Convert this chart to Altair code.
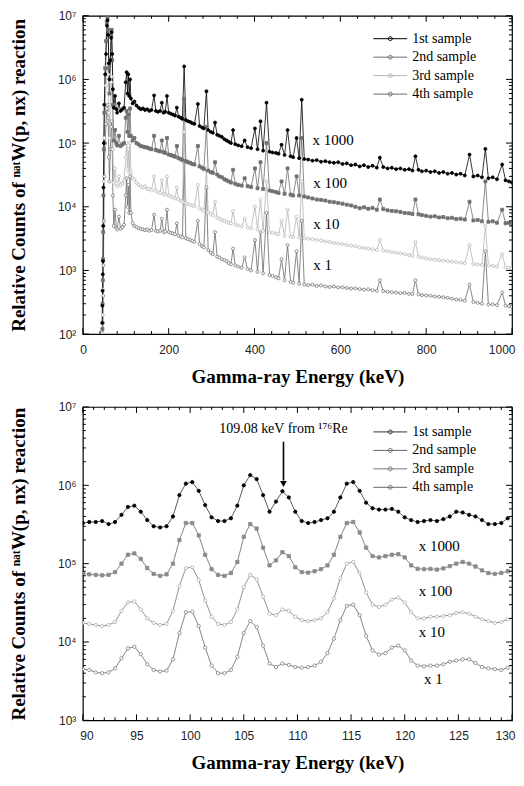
import altair as alt
import pandas as pd

SERIF = "Liberation Serif"
SANS = "Liberation Sans"

series_names = ["1st sample", "2nd sample", "3rd sample", "4th sample"]

# ---------------- top panel: full spectrum (keV, relative counts) ----------------
top_energy = [
    45, 45.5, 46, 46.5, 47, 47.5, 48, 49, 50, 52,
    54, 56, 57.5, 59, 60.5, 62, 64, 66, 67, 68.5,
    70, 72, 75, 78, 80, 84, 88, 92, 96, 100,
    102, 104, 106, 108, 110, 112, 116, 120, 125, 130,
    135, 140, 145, 150, 155, 160, 166, 170, 175, 180,
    184, 188, 192, 196, 200, 205, 210, 215, 219, 223,
    228, 232, 236, 240, 245, 250, 255, 260, 268, 272,
    278, 282, 288, 292, 298, 303, 308, 313, 318, 324,
    330, 335, 340, 345, 350, 355, 362, 370, 377, 384,
    392, 401, 407, 414, 420, 428, 435, 442, 450, 456,
    463, 470, 477, 484, 490, 498, 504, 510, 516, 525,
    535, 545, 555, 565, 575, 585, 595, 605, 615, 625,
    635, 645, 655, 665, 675, 685, 692, 700, 710, 720,
    730, 740, 750, 760, 768, 775, 782, 790, 800, 810,
    820, 830, 840, 850, 860, 870, 880, 890, 901, 910,
    920, 930, 938, 945, 955, 965, 977, 985, 993, 1000,
]
top_s1 = [
    150, 280, 480, 870, 1400, 5000, 2.0e4, 1.0e5, 4.0e5, 1.2e6,
    2.5e6, 7.0e6, 8.5e6, 5.0e6, 1.8e6, 1.0e6, 2.0e6, 4.5e6, 5.5e6, 2.5e6,
    7e5, 3.6e5, 5.5e5, 3.4e5, 3.0e5, 4.2e5, 3.2e5, 3.4e5, 3.6e5, 9e5,
    1.3e6, 6e5, 1.2e6, 5.5e5, 1.0e6, 5.0e5, 4.2e5, 4.5e5, 3.9e5, 3.6e5,
    3.4e5, 3.5e5, 3.3e5, 3.4e5, 3.2e5, 3.3e5, 5.6e5, 3.2e5, 3.1e5, 3.2e5,
    4.3e5, 3.0e5, 3.1e5, 5.5e5, 3.0e5, 2.9e5, 2.8e5, 2.7e5, 3.6e5, 2.6e5,
    2.5e5, 2.4e5, 1.6e6, 2.3e5, 2.2e5, 2.15e5, 2.05e5, 2.0e5, 4.1e5, 1.85e5,
    1.75e5, 1.7e5, 6.5e5, 1.6e5, 1.5e5, 1.45e5, 2.1e5, 1.35e5, 1.3e5, 1.25e5,
    1.15e5, 1.1e5, 1.05e5, 1.0e5, 1.6e5, 9.6e4, 9.2e4, 8.9e4, 1.1e5, 8.6e4,
    8.3e4, 1.7e5, 8.0e4, 2.2e5, 7.6e4, 4.3e5, 7.3e4, 7.1e4, 7.0e4, 6.8e4,
    9.4e4, 6.5e4, 1.6e5, 6.2e4, 6.0e4, 1.2e5, 5.8e4, 4.8e5, 5.6e4, 5.5e4,
    5.3e4, 5.4e4, 5.1e4, 5.2e4, 5.0e4, 4.9e4, 5.0e4, 4.7e4, 4.8e4, 4.5e4,
    4.6e4, 4.3e4, 4.5e4, 4.2e4, 4.4e4, 4.1e4, 5.9e4, 4.2e4, 4.0e4, 4.1e4,
    3.9e4, 4.0e4, 3.8e4, 3.9e4, 3.7e4, 6.2e4, 3.8e4, 3.6e4, 3.7e4, 3.5e4,
    3.6e4, 3.4e4, 3.5e4, 3.3e4, 3.4e4, 3.2e4, 3.3e4, 3.1e4, 6.6e4, 3.0e4,
    3.1e4, 2.9e4, 8.1e4, 2.8e4, 2.9e4, 2.7e4, 4.6e4, 2.6e4, 2.5e4, 2.4e4,
]
top_s2 = [
    60, 120, 300, 700, 1500, 4000, 1.5e4, 8e4, 3e5, 1.5e6,
    4e6, 8e6, 9.5e6, 6e6, 1.5e6, 6e5, 2e6, 5e6, 6e6, 2e6,
    4e5, 1.1e5, 1.6e5, 1.0e5, 9.2e4, 1.3e5, 9.0e4, 9.5e4, 1.0e5, 2.5e5,
    3.2e5, 1.5e5, 2.8e5, 1.3e5, 3.5e5, 1.3e5, 1.1e5, 1.2e5, 1.0e5, 9.5e4,
    9.0e4, 8.8e4, 8.6e4, 8.5e4, 8.2e4, 8.0e4, 1.3e5, 7.8e4, 7.6e4, 7.4e4,
    1.1e5, 7.2e4, 7.0e4, 1.2e5, 6.6e4, 6.5e4, 6.3e4, 6.1e4, 9.0e4, 5.8e4,
    5.6e4, 5.4e4, 5.0e5, 5.2e4, 5.0e4, 4.9e4, 4.7e4, 4.6e4, 9.0e4, 4.3e4,
    4.1e4, 3.9e4, 1.8e5, 3.7e4, 3.5e4, 3.4e4, 5.0e4, 3.2e4, 3.0e4, 2.9e4,
    2.7e4, 2.6e4, 2.5e4, 2.4e4, 3.8e4, 2.3e4, 2.2e4, 2.15e4, 2.8e4, 2.1e4,
    2.05e4, 4.0e4, 1.95e4, 5.0e4, 1.9e4, 1.0e5, 1.8e4, 1.75e4, 1.7e4, 1.65e4,
    2.5e4, 1.6e4, 4.0e4, 1.55e4, 1.5e4, 3.0e4, 1.5e4, 1.2e5, 1.45e4, 1.4e4,
    1.35e4, 1.3e4, 1.28e4, 1.25e4, 1.2e4, 1.18e4, 1.15e4, 1.12e4, 1.08e4, 1.05e4,
    1.0e4, 9.5e3, 9.8e3, 9.3e3, 9.6e3, 9.0e3, 1.3e4, 9.2e3, 8.8e3, 8.6e3,
    8.5e3, 8.3e3, 8.0e3, 7.9e3, 7.7e3, 1.3e4, 7.6e3, 7.4e3, 7.2e3, 7.0e3,
    7.1e3, 6.8e3, 6.9e3, 6.6e3, 6.7e3, 6.4e3, 6.5e3, 6.3e3, 1.2e4, 6.1e3,
    6.2e3, 5.9e3, 2.5e4, 5.8e3, 5.9e3, 5.6e3, 9.0e3, 5.5e3, 5.6e3, 5.4e3,
]
top_s3 = [
    40, 60, 100, 200, 500, 1500, 5000, 2.5e4, 1.2e5, 4e5,
    8e5, 1.6e6, 1.9e6, 1.2e6, 3e5, 1.2e5, 4e5, 9e5, 1.1e6, 4e5,
    8e4, 2.4e4, 4e4, 2.3e4, 2.1e4, 3.0e4, 2.2e4, 2.3e4, 2.6e4, 6e4,
    1e5, 4e4, 8e4, 3.5e4, 1e5, 3.5e4, 2.8e4, 2.7e4, 2.4e4, 2.2e4,
    2.1e4, 2.0e4, 2.1e4, 1.9e4, 1.9e4, 1.8e4, 3.0e4, 1.8e4, 1.7e4, 1.65e4,
    2.6e4, 1.6e4, 1.55e4, 3.0e4, 1.5e4, 1.45e4, 1.4e4, 1.35e4, 2.0e4, 1.3e4,
    1.25e4, 1.2e4, 1.5e5, 1.15e4, 1.1e4, 1.08e4, 1.05e4, 1.02e4, 2.2e4, 9500,
    9000, 8700, 4.0e4, 8200, 7800, 7400, 1.2e4, 6800, 6500, 6200,
    6000, 5800, 5600, 5500, 8500, 5300, 5100, 4900, 6500, 4700,
    4600, 1.0e4, 4400, 1.3e4, 4200, 2.5e4, 4000, 3900, 3800, 3700,
    6000, 3500, 9000, 3400, 3350, 7000, 3300, 2.5e4, 3200, 3150,
    3100, 3000, 2950, 2850, 2800, 2700, 2650, 2600, 2500, 2450,
    2400, 2300, 2250, 2200, 2150, 2100, 3000, 2050, 2000, 1950,
    1900, 1850, 1800, 1750, 1700, 2800, 1650, 1600, 1550, 1500,
    1480, 1450, 1420, 1400, 1380, 1350, 1320, 1300, 2500, 1260,
    1240, 1220, 5000, 1200, 1180, 1150, 1800, 1120, 1100, 1080,
]
top_s4 = [
    30, 40, 60, 90, 150, 400, 1200, 6000, 3e4, 1e5,
    2e5, 3.5e5, 4e5, 2.5e5, 6e4, 2.5e4, 8e4, 1.8e5, 2.2e5, 8e4,
    1.5e4, 5000, 9000, 4600, 4400, 7000, 4500, 4800, 5200, 1.5e4,
    2.8e4, 1.0e4, 2.2e4, 8000, 3.0e4, 8000, 5500, 5000, 4800, 4600,
    4500, 4400, 4300, 4400, 4200, 4300, 7500, 4200, 4100, 4200,
    6500, 4000, 4100, 9000, 4000, 3900, 3800, 3700, 5500, 3500,
    3400, 3300, 5.0e4, 3200, 3100, 3000, 2900, 2800, 6000, 2600,
    2400, 2300, 2.0e4, 2100, 1900, 1800, 4000, 1650, 1600, 1500,
    1450, 1400, 1300, 1250, 2200, 1200, 1150, 1100, 1600, 1050,
    1000, 3000, 950, 4000, 900, 8000, 850, 820, 780, 750,
    1500, 700, 2500, 660, 640, 2000, 620, 6000, 600, 590,
    600, 570, 580, 560, 550, 560, 540, 545, 530, 520,
    525, 510, 500, 505, 490, 480, 700, 470, 465, 455,
    450, 440, 445, 430, 425, 700, 420, 410, 405, 400,
    390, 385, 380, 370, 360, 350, 345, 335, 600, 320,
    310, 300, 2000, 290, 295, 285, 450, 280, 275, 270,
]

# ---------------- bottom panel: zoom 90-130 keV ----------------
bot_energy = [round(90 + 0.6 * i, 1) for i in range(67)]  # detector channel grid
bot_s1 = [
    3.3e5, 3.4e5, 3.4e5, 3.5e5, 3.2e5, 3.4e5, 4.2e5, 5.3e5, 5.5e5, 4.6e5,
    3.6e5, 3.0e5, 2.9e5, 3.0e5, 4.0e5, 7.5e5, 1.05e6, 1.1e6, 8.5e5, 5.6e5,
    3.9e5, 3.5e5, 3.5e5, 3.8e5, 5.5e5, 1.0e6, 1.35e6, 1.2e6, 7.5e5, 4.6e5,
    6.2e5, 8.4e5, 7.0e5, 4.6e5, 3.5e5, 3.3e5, 3.4e5, 3.6e5, 3.8e5, 4.6e5,
    7.0e5, 1.05e6, 1.1e6, 8.5e5, 6.0e5, 5.1e5, 4.9e5, 4.9e5, 5.0e5, 4.6e5,
    3.9e5, 3.6e5, 3.4e5, 3.5e5, 3.6e5, 3.5e5, 3.7e5, 4.0e5, 4.6e5, 4.5e5,
    4.2e5, 4.0e5, 3.6e5, 3.2e5, 3.2e5, 3.3e5, 3.8e5,
]
bot_s2 = [
    7.5e4, 7.3e4, 7.2e4, 7.1e4, 7.2e4, 7.8e4, 1.0e5, 1.3e5, 1.35e5, 1.15e5,
    8.8e4, 7.4e4, 7.0e4, 7.3e4, 1.0e5, 2.0e5, 3.3e5, 3.3e5, 2.3e5, 1.3e5,
    8.5e4, 7.2e4, 7.0e4, 7.6e4, 1.05e5, 2.2e5, 3.2e5, 2.8e5, 1.6e5, 9.5e4,
    1.1e5, 1.4e5, 1.25e5, 9.0e4, 7.8e4, 7.7e4, 8.0e4, 8.5e4, 9.5e4, 1.3e5,
    2.2e5, 3.3e5, 3.4e5, 2.5e5, 1.6e5, 1.25e5, 1.2e5, 1.25e5, 1.3e5, 1.32e5,
    1.2e5, 9.5e4, 8.6e4, 8.5e4, 8.6e4, 8.4e4, 8.7e4, 9.3e4, 1.0e5, 1.05e5,
    1.0e5, 9.2e4, 8.2e4, 7.6e4, 7.4e4, 7.6e4, 8.0e4,
]
bot_s3 = [
    1.75e4, 1.7e4, 1.65e4, 1.6e4, 1.65e4, 1.8e4, 2.5e4, 3.2e4, 3.3e4, 2.6e4,
    2.0e4, 1.75e4, 1.65e4, 1.7e4, 2.5e4, 5.2e4, 8.8e4, 9.0e4, 6.2e4, 3.4e4,
    2.1e4, 1.7e4, 1.65e4, 1.8e4, 2.6e4, 5.0e4, 7.2e4, 6.3e4, 3.8e4, 2.3e4,
    2.2e4, 2.6e4, 2.5e4, 2.1e4, 1.9e4, 1.85e4, 1.9e4, 2.0e4, 2.4e4, 3.6e4,
    6.5e4, 1.0e5, 1.05e5, 7.5e4, 4.3e4, 3.0e4, 2.8e4, 3.0e4, 3.5e4, 3.7e4,
    3.2e4, 2.4e4, 2.0e4, 2.0e4, 2.1e4, 2.1e4, 2.15e4, 2.2e4, 2.35e4, 2.4e4,
    2.3e4, 2.1e4, 1.95e4, 1.85e4, 1.75e4, 1.8e4, 1.95e4,
]
bot_s4 = [
    4.5e3, 4.4e3, 4.1e3, 4.0e3, 4.1e3, 4.6e3, 6.2e3, 8.3e3, 8.7e3, 7.0e3,
    5.2e3, 4.4e3, 4.2e3, 4.3e3, 6.0e3, 1.3e4, 2.4e4, 2.45e4, 1.6e4, 8.5e3,
    5.0e3, 4.0e3, 4.0e3, 4.4e3, 6.5e3, 1.3e4, 1.85e4, 1.55e4, 9.0e3, 5.3e3,
    4.8e3, 5.3e3, 5.1e3, 4.8e3, 4.7e3, 4.8e3, 5.0e3, 5.6e3, 7.2e3, 1.1e4,
    1.9e4, 2.9e4, 3.0e4, 2.2e4, 1.2e4, 7.8e3, 6.9e3, 7.2e3, 8.5e3, 9.0e3,
    7.8e3, 5.8e3, 5.0e3, 4.9e3, 5.0e3, 5.0e3, 5.2e3, 5.6e3, 5.8e3, 6.0e3,
    6.0e3, 5.4e3, 4.8e3, 4.6e3, 4.5e3, 4.4e3, 4.7e3,
]

# scaling-factor labels
top_label_text = ["x 1000", "x 100", "x 10", "x 1"]
top_label_E = [535, 537, 537, 537]
top_label_v = [1.12e5, 2.4e4, 5.4e3, 1.2e3]
bot_label_text = ["x 1000", "x 100", "x 10", "x 1"]
bot_label_E = [121.3, 121.3, 121.3, 121.8]
bot_label_v = [1.66e5, 4.5e4, 1.35e4, 3.4e3]

# arrow annotation (bottom panel)
arrow_E = 108.7
arrow_top = 3.6e6
arrow_end = 1.15e6
arrow_head = 1.04e6
arrow_text = "109.08 keV from \u00b9\u2077\u2076Re"
arrow_text_v = 5.3e6

SUP = "['\u2070','\u00b9','\u00b2','\u00b3','\u2074','\u2075','\u2076','\u2077','\u2078']"
Y_LABEL_EXPR = "'10' + " + SUP + "[round(log(datum.value)/LN10)]"

LEGEND_PATH = "M-3,0H3M-0.35,0A0.35,0.35,0,1,1,0.35,0A0.35,0.35,0,1,1,-0.35,0"

W = 430


def long_df(energy, vals_list):
    rows = []
    for name, vals in reversed(list(zip(series_names, vals_list))):
        assert len(vals) == len(energy)
        for e, v in zip(energy, vals):
            rows.append({"E": e, "v": v, "series": name})
    return pd.DataFrame(rows)


def panel(energy, vals_list, H, xdom, ydom, xmajor, xminor, ymajor, yminor,
          line_colors, fill_colors, stroke_colors, shapes, psize,
          lab_text, lab_E, lab_v, legend_x, legend_y, extra=None):
    df = long_df(energy, vals_list)
    xs = alt.Scale(domain=xdom, nice=False, zero=False)
    ys = alt.Scale(type="log", domain=ydom, nice=False)

    x_main = alt.X("E:Q", scale=xs, axis=alt.Axis(
        orient="bottom", values=xmajor, ticks=False, domain=False, grid=False,
        labelFont=SANS, labelFontSize=12, labelColor="#222", labelPadding=10,
        labelFlush=True, labelFlushOffset=3, labelOverlap=False, format="d",
        title="Gamma-ray Energy (keV)", titleFont=SERIF, titleFontSize=19,
        titleFontWeight="bold", titleColor="black", titlePadding=12))
    y_main = alt.Y("v:Q", scale=ys, axis=alt.Axis(
        orient="left", values=ymajor, ticks=False, domain=False, grid=False,
        labelFont=SANS, labelFontSize=12, labelColor="#222", labelPadding=7,
        labelFlush=False, labelOverlap=False, labelExpr=Y_LABEL_EXPR,
        title="Relative Counts of \u207f\u1d43\u1d57W(p, nx) reaction",
        titleFont=SERIF, titleFontSize=19, titleFontWeight="bold",
        titleColor="black", titlePadding=29))

    lines = alt.Chart(df).mark_line(strokeWidth=0.8, clip=True).encode(
        x=x_main, y=y_main,
        color=alt.Color("series:N", scale=alt.Scale(domain=series_names, range=line_colors),
                        legend=alt.Legend(
                            title=None, orient="none", legendX=legend_x, legendY=legend_y,
                            symbolType=LEGEND_PATH, symbolSize=128, symbolStrokeWidth=1,
                            labelFont=SERIF, labelFontSize=14, labelColor="black",
                            labelOffset=15, rowPadding=4.5, padding=0)),
        order=alt.Order("E:Q"),
    )

    layers = [lines]
    # markers: one layer per sample, drawn 4th -> 1st so the 1st sample is on top
    for i in reversed(range(4)):
        layers.append(
            alt.Chart(df).transform_filter(alt.datum.series == series_names[i])
            .mark_point(shape=shapes[i], filled=True, fill=fill_colors[i],
                        stroke=stroke_colors[i], strokeWidth=0.8, size=psize,
                        opacity=1, clip=True)
            .encode(x=alt.X("E:Q", scale=xs, axis=None),
                    y=alt.Y("v:Q", scale=ys, axis=None))
        )

    lab_df = pd.DataFrame({"E": lab_E, "v": lab_v, "t": lab_text})
    layers.append(
        alt.Chart(lab_df).mark_text(font=SERIF, fontSize=15, align="left",
                                    baseline="middle", color="black").encode(
            x=alt.X("E:Q", scale=xs, axis=None),
            y=alt.Y("v:Q", scale=ys, axis=None),
            text="t:N")
    )
    if extra:
        layers += [e(xs, ys) for e in extra]

    # inward-pointing frame ticks
    def xticks(vals, size):
        d = pd.DataFrame({"E": vals})
        base = alt.Chart(d).mark_rule(color="black", strokeWidth=1)
        enc_x = alt.X("E:Q", scale=xs, axis=None)
        return [base.encode(x=enc_x, y=alt.value(H), y2=alt.value(H - size)),
                base.encode(x=enc_x, y=alt.value(0), y2=alt.value(size))]

    def yticks(vals, size):
        d = pd.DataFrame({"v": vals})
        base = alt.Chart(d).mark_rule(color="black", strokeWidth=1)
        enc_y = alt.Y("v:Q", scale=ys, axis=None)
        return [base.encode(y=enc_y, x=alt.value(0), x2=alt.value(size)),
                base.encode(y=enc_y, x=alt.value(W), x2=alt.value(W - size))]

    layers += xticks(xmajor, 6) + xticks(xminor, 3) + yticks(ymajor, 6) + yticks(yminor, 3)
    return alt.layer(*layers).resolve_axis(x="independent", y="independent").properties(
        width=W, height=H)


def y_minor(lo, hi):
    return [k * 10 ** d for d in range(lo, hi) for k in range(2, 10)]


top = panel(
    top_energy, [top_s1, top_s2, top_s3, top_s4], H=319,
    xdom=[0, 1000], ydom=[1e2, 1e7],
    xmajor=[0, 200, 400, 600, 800, 1000],
    xminor=[v for v in range(0, 1001, 40) if v % 200 != 0],
    ymajor=[1e2, 1e3, 1e4, 1e5, 1e6, 1e7], yminor=y_minor(2, 7),
    line_colors=["#000000", "#6e6e6e", "#b4b4b4", "#6a6a6a"],
    fill_colors=["#000000", "#707070", "#ffffff", "#ffffff"],
    stroke_colors=["#000000", "#707070", "#b8b8b8", "#777777"],
    shapes=["circle", "square", "circle", "circle"], psize=9,
    lab_text=top_label_text, lab_E=top_label_E, lab_v=top_label_v,
    legend_x=301, legend_y=16,
)


def arrow_line(xs, ys):
    d = pd.DataFrame({"E": [arrow_E], "v": [arrow_top], "v2": [arrow_end]})
    return alt.Chart(d).mark_rule(color="black", strokeWidth=1.6).encode(
        x=alt.X("E:Q", scale=xs, axis=None),
        y=alt.Y("v:Q", scale=ys, axis=None),
        y2="v2:Q",
    )


def arrow_tip(xs, ys):
    d = pd.DataFrame({"E": [arrow_E], "v": [arrow_head]})
    return alt.Chart(d).mark_point(shape="triangle-down", filled=True, color="black",
                                   size=45, opacity=1).encode(
        x=alt.X("E:Q", scale=xs, axis=None),
        y=alt.Y("v:Q", scale=ys, axis=None),
    )


def arrow_label(xs, ys):
    d = pd.DataFrame({"E": [arrow_E], "v": [arrow_text_v], "t": [arrow_text]})
    return alt.Chart(d).mark_text(font=SERIF, fontSize=14, align="center",
                                  baseline="middle", color="black").encode(
        x=alt.X("E:Q", scale=xs, axis=None),
        y=alt.Y("v:Q", scale=ys, axis=None),
        text="t:N",
    )


bottom = panel(
    bot_energy, [bot_s1, bot_s2, bot_s3, bot_s4], H=314,
    xdom=[90, 130], ydom=[1e3, 1e7],
    xmajor=[90, 95, 100, 105, 110, 115, 120, 125, 130],
    xminor=[v for v in range(90, 131) if v % 5 != 0],
    ymajor=[1e3, 1e4, 1e5, 1e6, 1e7], yminor=y_minor(3, 7),
    line_colors=["#333333", "#666666", "#777777", "#666666"],
    fill_colors=["#000000", "#8a8a8a", "#ffffff", "#ffffff"],
    stroke_colors=["#000000", "#8a8a8a", "#b0b0b0", "#808080"],
    shapes=["circle", "square", "circle", "circle"], psize=11,
    lab_text=bot_label_text, lab_E=bot_label_E, lab_v=bot_label_v,
    legend_x=301, legend_y=18,
    extra=[arrow_line, arrow_tip, arrow_label],
)

chart = alt.vconcat(top, bottom, spacing=13).resolve_scale(
    x="independent", y="independent", color="independent",
).configure_view(stroke="black", strokeWidth=1.2).properties(
    padding={"left": 0, "top": 0, "right": 0, "bottom": 0})

chart.save("out.html", embed_options={"renderer": "svg", "actions": False})
